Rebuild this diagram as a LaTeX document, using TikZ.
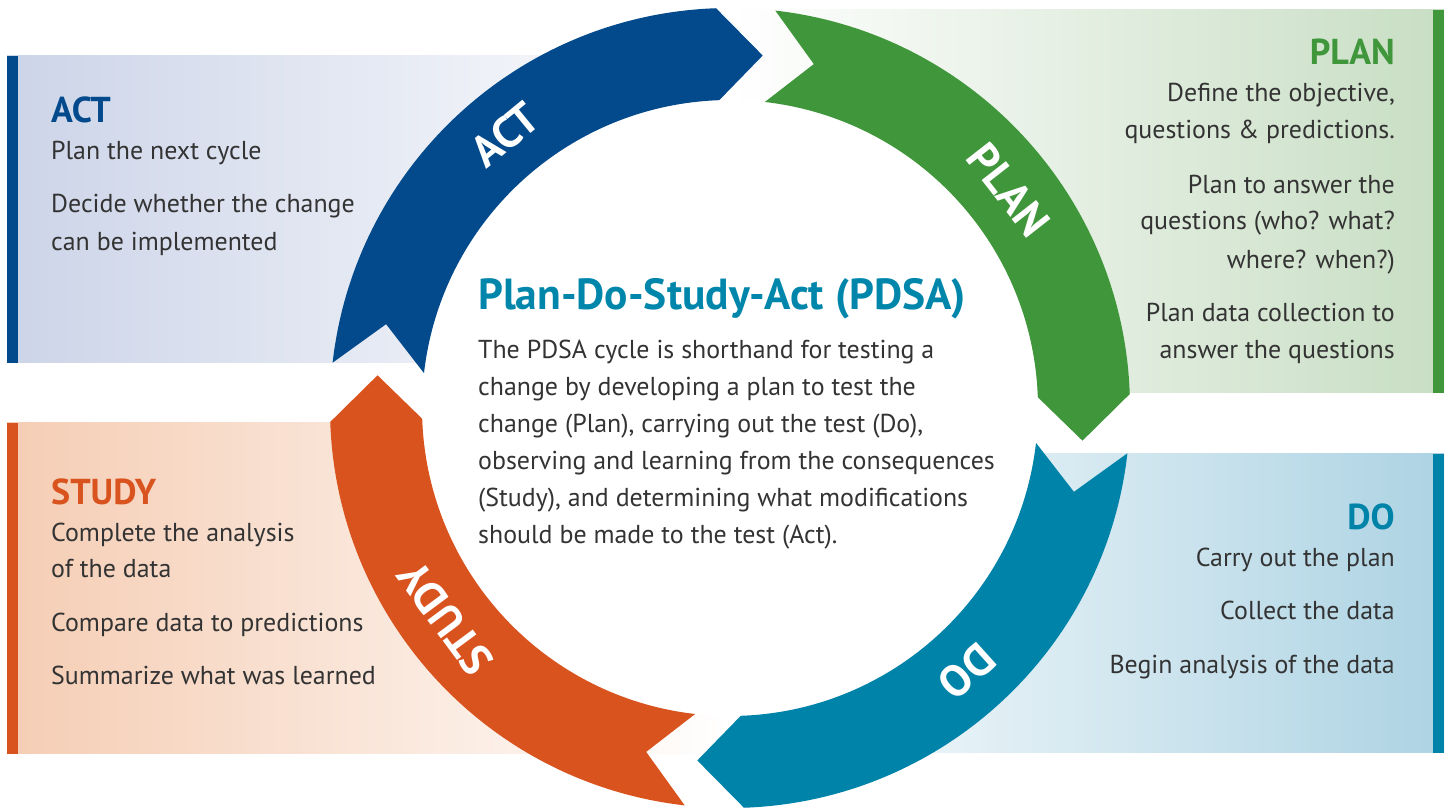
\documentclass[tikz,border=0pt]{standalone}
\usepackage{fontspec}
\setmainfont{PT Sans}
\definecolor{actblue}{RGB}{3,74,140}
\definecolor{plangreen}{RGB}{64,150,58}
\definecolor{doteal}{RGB}{0,131,169}
\definecolor{studyorange}{RGB}{217,83,30}
\definecolor{titleteal}{RGB}{0,134,171}
\definecolor{txtgray}{RGB}{51,51,51}
\definecolor{actpanel}{RGB}{204,212,232}
\definecolor{planpanel}{RGB}{200,222,196}
\definecolor{dopanel}{RGB}{173,211,227}
\definecolor{studypanel}{RGB}{245,205,180}

\begin{document}
\begin{tikzpicture}[x=1pt,y=1pt,
  body/.style={text=txtgray,inner sep=0pt,font=\fontsize{25.9}{30}\selectfont},
  head/.style={inner sep=0pt,font=\fontsize{36}{38}\selectfont\bfseries},
  ringlabel/.style={text=white,inner sep=0pt,font=\fontsize{44}{44}\selectfont\bfseries}]
\useasboundingbox (0,0) rectangle (1449,808);

% side panels
\shade[left color=actpanel,right color=white] (7,445) rectangle (730,752);
\shade[left color=studypanel,right color=white] (7,54) rectangle (730,385);
\shade[left color=white,right color=planpanel] (730,415) rectangle (1444,798);
\shade[left color=white,right color=dopanel] (730,55) rectangle (1444,354);
\fill[actblue] (7,445) rectangle (18,752);
\fill[studyorange] (7,54) rectangle (18,385);
\fill[plangreen] (1433,415) rectangle (1444,798);
\fill[doteal] (1433,55) rectangle (1444,354);

% ring of four arrows
\begin{scope}[shift={(730,400)}]
\fill[white] (0,0) circle (308);
\foreach \b/\c in {90/actblue,0/plangreen,270/doteal,180/studyorange}
  \fill[\c] (\b+83.5:400) arc[start angle=\b+83.5,end angle=\b+2,radius=400]
    -- (\b-5.3:354) -- (\b+2:308)
    arc[start angle=\b+2,end angle=\b+83.5,radius=308]
    -- (\b+76.3:354) -- cycle;
\node[ringlabel,rotate=39.4] (ringact) at (129.4:354) {ACT};
\node[ringlabel,rotate=-52] (ringplan) at (38:354) {PLAN};
\node[ringlabel,rotate=-138] (ringdo) at (-48:354) {DO};
\node[ringlabel,rotate=126.5] (ringstudy) at (216.5:354) {STUDY};
\end{scope}

% centre text
\node[inner sep=0pt,anchor=base west,text=titleteal,font=\fontsize{43.5}{44}\selectfont\bfseries]
  (pdsa) at (478,498) {Plan-Do-Study-Act (PDSA)};
\foreach \y/\t [count=\i] in {449.7/The PDSA cycle is shorthand for testing a,
  412.7/change by developing a plan to test the,
  375.7/{change (Plan), carrying out the test (Do),},
  338.7/observing and learning from the consequences,
  301.7/{(Study), and determining what modifications},
  264.7/should be made to the test (Act).}
  \node[body,anchor=base west] (desc\i) at (478,\y) {\t};

% ACT
\node[head,text=actblue,anchor=base west] (acthead) at (51,685) {ACT};
\foreach \y/\t [count=\i] in {648/Plan the next cycle,595.3/Decide whether the change,557.3/can be implemented}
  \node[body,anchor=base west] (act\i) at (51,\y) {\t};

% STUDY
\node[head,text=studyorange,anchor=base west] (studyhead) at (51,303) {STUDY};
\foreach \y/\t [count=\i] in {266.3/Complete the analysis,230/of the data,176.3/Compare data to predictions,123/Summarize what was learned}
  \node[body,anchor=base west] (study\i) at (51,\y) {\t};

% PLAN
\node[head,text=plangreen,anchor=base east] (planhead) at (1395,743) {PLAN};
\foreach \y/\t [count=\i] in {706.3/{Define the objective,},669.7/questions \& predictions.,
  614.7/Plan to answer the,578/questions (who? what?,539.7/where? when?),
  486.3/Plan data collection to,449.7/answer the questions}
  \node[body,anchor=base east] (plan\i) at (1395,\y) {\t};

% DO
\node[head,text=doteal,anchor=base east] (dohead) at (1395,278) {DO};
\foreach \y/\t [count=\i] in {241.3/Carry out the plan,188/Collect the data,134.7/Begin analysis of the data}
  \node[body,anchor=base east] (do\i) at (1395,\y) {\t};
\end{tikzpicture}
\end{document}
